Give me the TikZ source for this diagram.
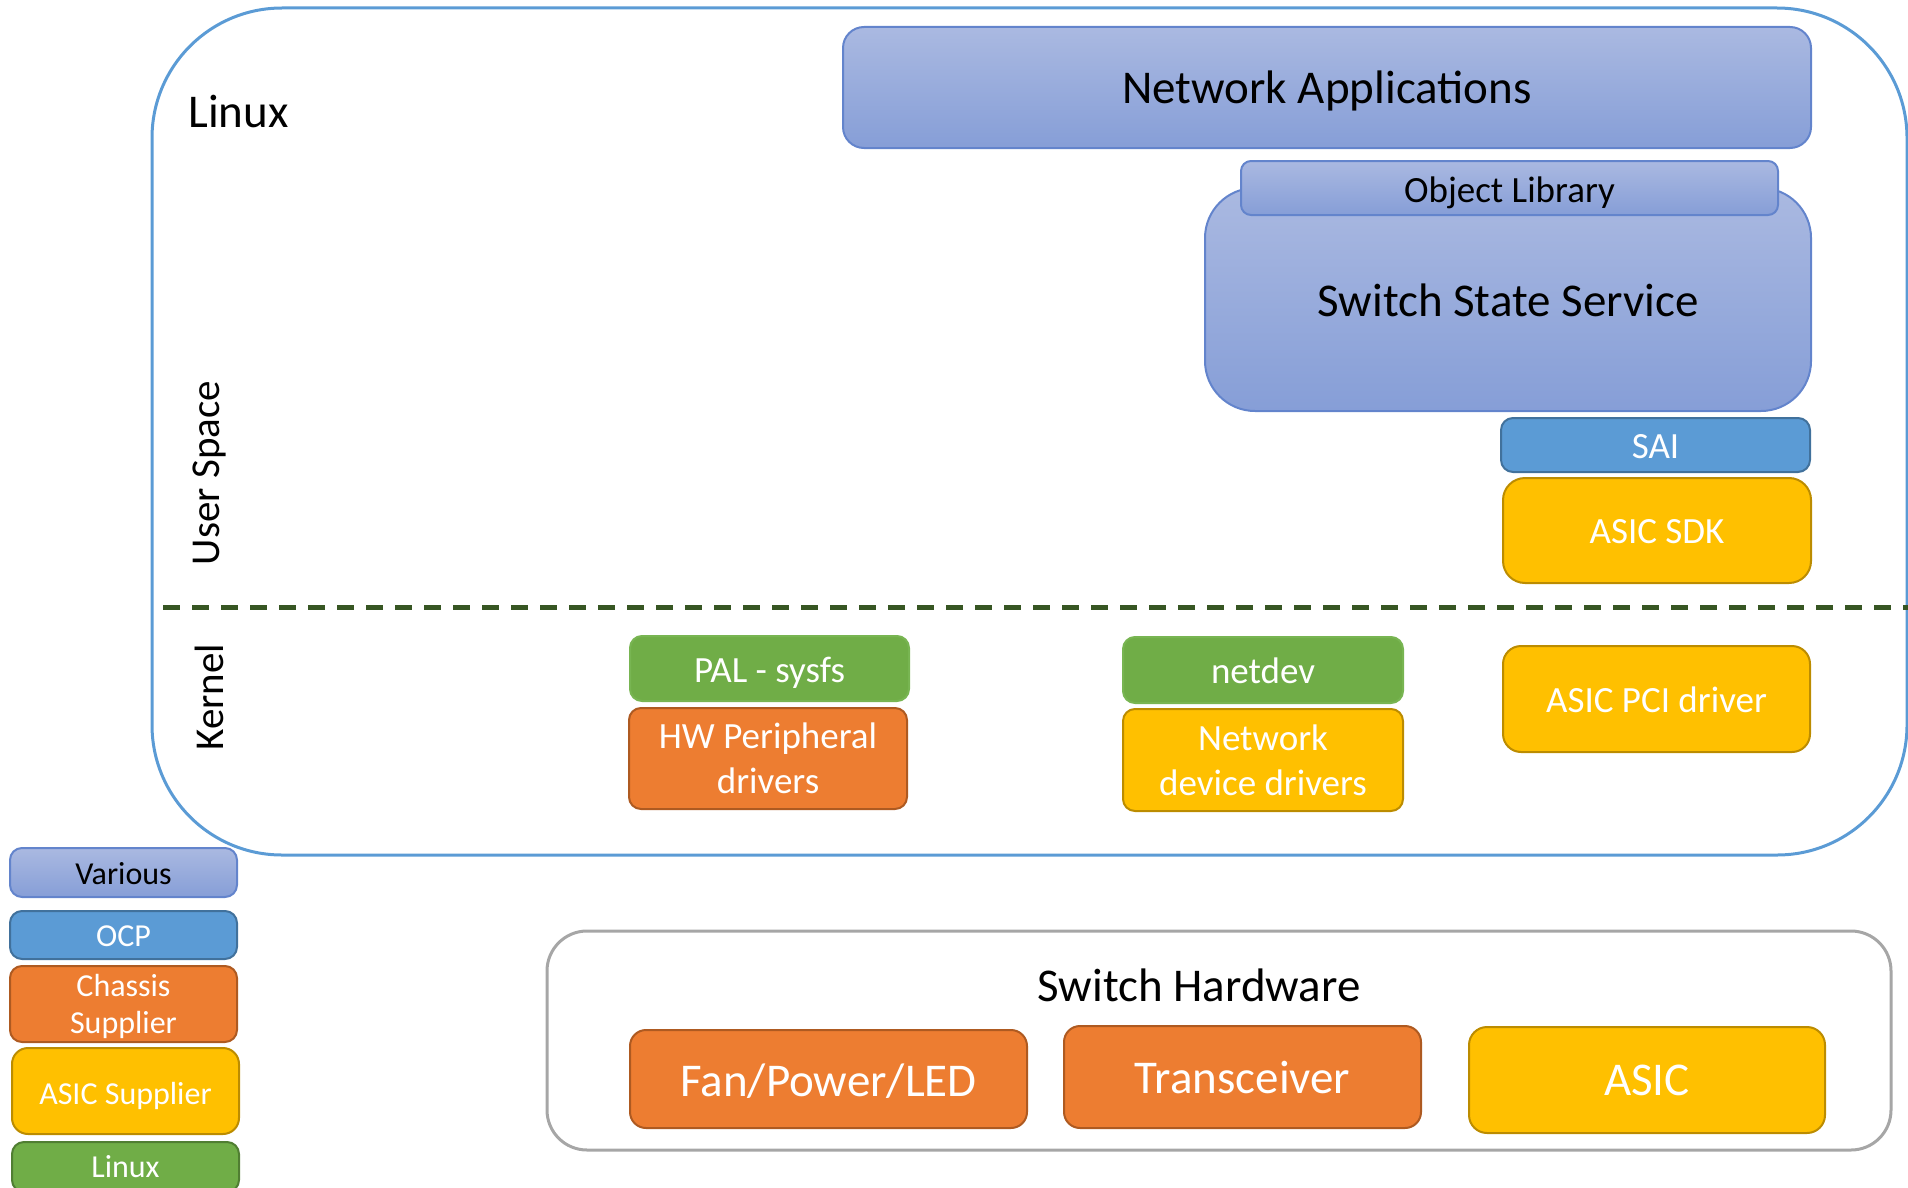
\documentclass[tikz,border=0pt]{standalone}
\usepackage{fontspec}
\setmainfont{Carlito}
\definecolor{lnxblue}{HTML}{5B9BD5}
\definecolor{vartop}{HTML}{AAB9E1}
\definecolor{varbot}{HTML}{869ED7}
\definecolor{varline}{HTML}{6384CC}
\definecolor{ocpfill}{HTML}{5B9BD5}
\definecolor{ocpline}{HTML}{41719C}
\definecolor{orfill}{HTML}{ED7D31}
\definecolor{orline}{HTML}{AE5A21}
\definecolor{yefill}{HTML}{FFC000}
\definecolor{yeline}{HTML}{BC8C00}
\definecolor{grfill}{HTML}{70AD47}
\definecolor{grline}{HTML}{78B552}
\definecolor{grlined}{HTML}{507E32}
\definecolor{hwgray}{HTML}{A6A6A6}
\definecolor{sepgreen}{HTML}{375623}
\newcommand\fsL{\fontsize{47}{54}\selectfont}
\newcommand\fsK{\fontsize{41}{48}\selectfont}
\newcommand\fsM{\fontsize{37}{45}\selectfont}
\newcommand\fsS{\fontsize{32}{37}\selectfont}
\newcommand\lowr[2]{\raisebox{-#1}[\height][\depth]{#2}}
\tikzset{
  blk/.style={draw, line width=2pt, rounded corners=12pt, inner sep=0pt, align=center},
  various/.style={blk, draw=varline, top color=vartop, bottom color=varbot, text=black},
  ocp/.style={blk, draw=ocpline, fill=ocpfill, text=white},
  orange/.style={blk, draw=orline, fill=orfill, text=white},
  yellow/.style={blk, draw=yeline, fill=yefill, text=white},
  green/.style={blk, draw=grline, fill=grfill, text=white},
  greend/.style={blk, draw=grlined, fill=grfill, text=white},
  lbl/.style={inner sep=0pt, text=black, align=center},
  sepline/.style={draw=sepgreen, line width=5pt, dash pattern=on 17pt off 12pt}
}
\begin{document}
\begin{tikzpicture}[x=1pt,y=-1pt]
\useasboundingbox (0,0) rectangle (1908,1188);
% Linux outer box
\node[draw=lnxblue, line width=3pt, rounded corners=130pt, minimum width=1755pt, minimum height=847pt, inner sep=0pt] (linuxbox) at (1029.5,431.5) {};
\node[lbl, font=\fsL] (linuxlbl) at (238.5,112) {Linux};
\node[lbl, rotate=90, font=\fsK] (userspace) at (209,473) {User Space};
\node[lbl, rotate=90, font=\fsK] (kernel) at (209,697) {Kernel};
% separator
\coordinate (sepL) at (163,607);
\coordinate (sepR) at (1908,607);
\draw[sepline] (sepL) -- (sepR);
% user space
\node[various, rounded corners=21pt, minimum width=968pt, minimum height=121pt, font=\fsL] (netapp) at (1327,87.5) {\lowr{3pt}{Network Applications}};
\node[various, rounded corners=50pt, minimum width=606pt, minimum height=223pt, font=\fsL] (sss) at (1508,299.5) {\lowr{1pt}{Switch State Service}};
\node[various, rounded corners=10pt, minimum width=537pt, minimum height=54pt, font=\fsM] (objlib) at (1509.5,188) {\lowr{5pt}{Object Library}};
\node[ocp, minimum width=309pt, minimum height=54pt, font=\fsM] (sai) at (1655.5,445) {\lowr{2pt}{SAI}};
\node[yellow, rounded corners=22pt, minimum width=308pt, minimum height=105pt, font=\fsM] (asicsdk) at (1657,530.5) {\lowr{1pt}{ASIC SDK}};
% kernel
\node[green, minimum width=279pt, minimum height=65pt, font=\fsM] (pal) at (769.5,668.5) {\lowr{4pt}{PAL - sysfs}};
\node[orange, minimum width=278pt, minimum height=101pt, font=\fsM] (hwp) at (768,758.5) {HW Peripheral\\drivers};
\node[green, minimum width=280pt, minimum height=66pt, font=\fsM] (netdev) at (1263,670) {\lowr{1pt}{netdev}};
\node[yellow, minimum width=280pt, minimum height=102pt, font=\fsM] (ndd) at (1263,760) {Network\\device drivers};
\node[yellow, rounded corners=18pt, minimum width=307pt, minimum height=106pt, font=\fsM] (asicpci) at (1656.5,699) {\lowr{1pt}{ASIC PCI driver}};
% switch hardware
\node[draw=hwgray, line width=3pt, rounded corners=40pt, minimum width=1344pt, minimum height=219pt, inner sep=0pt] (swhw) at (1219,1040.5) {};
\node[lbl, font=\fsL] (swhwlbl) at (1199,985) {Switch Hardware};
\node[orange, rounded corners=16pt, minimum width=397pt, minimum height=98pt, font=\fsL] (fan) at (828.5,1079) {\lowr{2pt}{Fan/Power/LED}};
\node[orange, rounded corners=16pt, minimum width=357pt, minimum height=102pt, font=\fsL] (trx) at (1242.5,1077) {Transceiver};
\node[yellow, rounded corners=18pt, minimum width=356pt, minimum height=106pt, font=\fsL] (asic) at (1647,1080) {ASIC};
% legend
\node[various, minimum width=227pt, minimum height=49pt, font=\fsS] (lgvar) at (123.5,872.5) {\lowr{1pt}{Various}};
\node[ocp, minimum width=227pt, minimum height=48pt, font=\fsS] (lgocp) at (123.5,935) {\lowr{1pt}{OCP}};
\node[orange, minimum width=227pt, minimum height=76pt, font=\fsS] (lgch) at (123.5,1004) {\lowr{2pt}{Chassis}\\\lowr{2pt}{Supplier}};
\node[yellow, rounded corners=16pt, minimum width=227pt, minimum height=86pt, font=\fsS] (lgasic) at (125.5,1091) {\lowr{5pt}{ASIC Supplier}};
\node[greend, minimum width=227pt, minimum height=50pt, font=\fsS] (lglnx) at (125.5,1167) {Linux};
\end{tikzpicture}
\end{document}
